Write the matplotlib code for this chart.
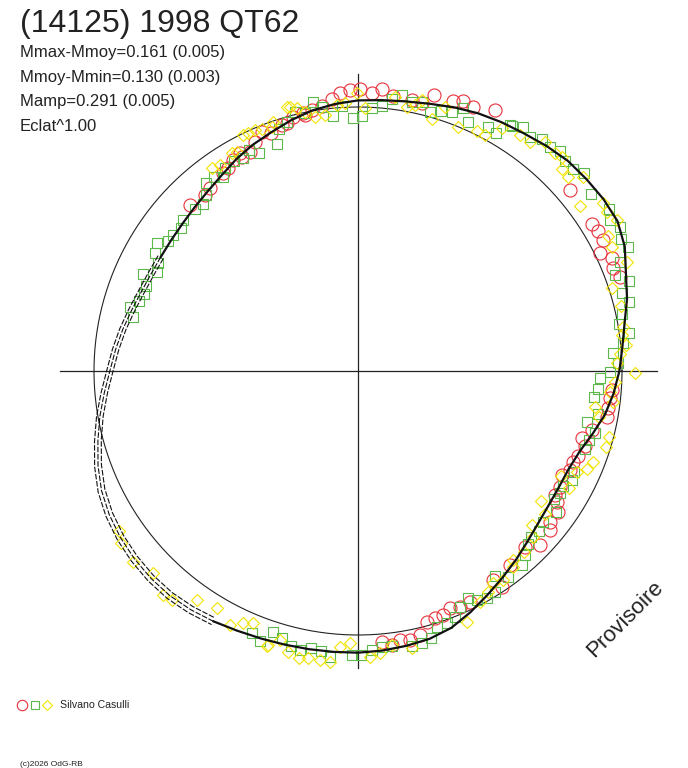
"""Courbe de lumière polaire de (14125) 1998 QT62"""
import numpy as np
import matplotlib
matplotlib.use("Agg")
from matplotlib import pyplot as plt

plt.rcParams['font.family'] = ['Liberation Sans', 'DejaVu Sans']

# courbe ajustée : rayon relatif tous les 5 degrés de phase
fit_phase = list(range(0, 360, 5))
fit_r = [0.990, 1.005, 1.025, 1.055, 1.080, 1.115, 1.135, 1.135, 1.130, 1.125,
         1.112, 1.098, 1.088, 1.077, 1.063, 1.048, 1.037, 1.030, 1.025, 1.015,
         1.002, 0.983, 0.962, 0.945, 0.925, 0.903, 0.887, 0.876, 0.868, 0.864,
         0.863, 0.866, 0.874, 0.888, 0.905, 0.922, 0.940, 0.965, 0.993, 1.020,
         1.048, 1.072, 1.088, 1.099, 1.106, 1.110, 1.110, 1.104, 1.095, 1.085,
         1.078, 1.073, 1.070, 1.068, 1.067, 1.063, 1.057, 1.050, 1.035, 1.008,
         0.980, 0.955, 0.932, 0.910, 0.893, 0.883, 0.879, 0.880, 0.893, 0.920,
         0.950, 0.972]

# mesures (phase en degrés, rayon relatif)
red_phase = [95.5, 93.7, 91.6, 89.5, 87.2, 85.2, 82.7, 78.8, 76.6, 74.7, 70.6, 68.7, 66.4, 62.3,
             97.8, 100.1, 102.0, 104.3, 107.2, 110.0, 114.2, 116.2, 118.4,
             101.7, 106.1, 111.9, 118.5, 120.6, 122.6, 124.3, 129.0, 131.0, 135.3,
             40.5, 32.2, 30.3, 28.1, 25.9, 23.9, 21.9, 19.8,
             355.7, 353.8, 351.5, 349.5, 345.8, 343.3, 341.6, 338.9, 337.2, 335.0,
             333.0, 330.2, 327.8, 326.7, 324.9, 321.9, 320.4, 316.3, 313.5, 308.1,
             303.7, 302.9, 295.9, 293.4, 291.2, 289.3, 287.3, 285.3, 283.2, 280.9,
             278.9, 277.0, 275.0]
red_r = [1.034, 1.056, 1.065, 1.067, 1.055, 1.071, 1.050, 1.047, 1.042, 1.084, 1.086, 1.099, 1.092, 1.117,
         1.013, 1.004, 0.998, 0.994, 0.976, 0.958, 0.952, 0.926, 0.939,
         0.990, 0.976, 0.977, 0.924, 0.928, 0.911, 0.906, 0.891, 0.883, 0.895,
         1.056, 1.046, 1.054, 1.053, 1.019, 1.052, 1.042, 1.055,
         0.964, 0.960, 0.959, 0.958, 0.913, 0.885, 0.906, 0.894, 0.885, 0.886,
         0.866, 0.882, 0.882, 0.901, 0.927, 0.925, 0.944, 0.954, 0.918, 0.934,
         0.982, 0.943, 0.971, 0.973, 0.964, 0.979, 0.981, 0.985, 1.027, 1.038,
         1.031, 1.046, 1.029]

green_phase = [99.5, 97.8, 95.5, 93.5, 91.1, 89.2, 87.0, 84.9, 82.9, 81.0, 78.7, 76.7, 74.5,
               72.3, 70.1, 68.2, 66.3, 62.0, 60.0, 58.3, 109.7, 114.3, 108.0, 103.7, 101.6, 106.0,
               57.9, 55.9, 53.6, 51.6, 49.5, 47.4, 45.4, 43.3, 41.2, 37.2, 32.9, 30.9, 28.8, 26.7,
               24.7, 22.6, 20.5, 18.4, 16.4, 14.3, 12.3, 10.2, 7.9, 6.0, 4.0, 1.8, 359.8, 358.3,
               355.7, 353.6, 349.9, 347.5, 345.4, 343.4, 341.1, 335.0, 333.0, 330.7, 328.8, 326.8,
               324.6, 320.8, 318.6, 316.3, 314.5, 312.2, 310.2,
               306.2, 303.8, 301.8, 299.5, 297.4, 295.8, 293.4, 291.5, 289.4, 287.1, 285.2, 283.2,
               281.0, 277.0, 274.9, 272.8, 270.7, 268.7, 264.5, 262.4, 260.3, 258.3, 256.2, 254.0,
               252.0, 250.0, 247.9,
               158.2, 155.8, 153.7, 151.7, 149.8, 147.6, 145.6, 143.6, 141.2, 139.3, 135.1, 132.9,
               130.8, 128.9, 126.6, 124.7, 123.3, 120.5, 118.5, 116.2,
               160.2, 162.2, 164.4, 166.5]
green_r = [1.034, 1.011, 0.970, 1.006, 0.960, 0.967, 0.999, 1.009, 1.037, 1.058, 1.038, 1.046, 1.019,
           1.035, 1.044, 1.074, 1.032, 1.048, 1.043, 1.095, 0.913, 0.907, 0.963, 1.011, 0.997, 0.982,
           1.097, 1.117, 1.099, 1.121, 1.117, 1.131, 1.118, 1.117, 1.137, 1.106, 1.132, 1.113, 1.133, 1.114,
           1.127, 1.075, 1.040, 1.083, 1.041, 1.060, 1.022, 1.004, 1.037, 1.010, 0.969, 0.986, 0.955, 0.917,
           0.911, 0.900, 0.925, 0.887, 0.928, 0.914, 0.910, 0.904, 0.909, 0.891, 0.894, 0.887,
           0.920, 0.903, 0.915, 0.909, 0.918, 0.941, 0.961,
           0.965, 0.934, 0.984, 0.989, 0.977, 0.956, 0.973, 1.003, 1.013, 1.013, 1.049, 1.057,
           1.063, 1.050, 1.048, 1.058, 1.076, 1.076, 1.087, 1.069, 1.066, 1.080, 1.071, 1.051,
           1.038, 1.087, 1.072,
           0.865, 0.894, 0.850, 0.861, 0.890, 0.903, 0.874, 0.869, 0.862, 0.876, 0.872, 0.864,
           0.881, 0.917, 0.914, 0.896, 0.918, 0.925, 0.916, 0.933,
           0.861, 0.871, 0.897, 0.878]

yellow_phase = [120.1, 115.9, 113.1, 111.7, 109.5, 105.1, 103.1, 101.6, 99.6, 97.3, 94.6, 92.8,
                90.3, 88.5, 82.3, 79.5, 77.9, 76.8, 73.7, 71.7, 67.7, 63.7, 61.7, 59.4,
                104.4, 114.8, 108.8, 118.9, 123.8, 125.8,
                55.5, 53.1, 50.8, 47.9, 46.5, 44.7, 42.7, 40.8, 36.6, 34.4, 32.6, 30.3, 28.3,
                26.1, 22.1, 18.1, 13.9, 9.5, 7.8, 5.5, 3.7, 1.8, 359.5,
                357.6, 355.3, 353.1, 351.4, 349.3, 345.2, 343.0, 338.9, 336.8, 335.3, 332.6,
                330.9, 324.6, 322.5, 318.4, 316.5, 312.5, 309.4,
                245.6, 247.5, 251.9, 253.8, 256.1, 258.3, 260.2, 262.5, 264.5, 266.3, 268.3,
                272.4, 274.5, 277.0, 281.0, 293.4, 297.9, 300.6, 302.5, 304.8, 308.4,
                213.9, 216.0, 220.3, 224.7, 229.0, 230.9, 234.9, 239.2, 243.3, 251.7]
yellow_r = [0.953, 0.994, 0.993, 0.986, 0.981, 1.037, 1.022, 1.003, 0.977, 0.978, 1.011, 1.015,
            1.052, 0.995, 1.048, 1.016, 1.030, 1.055, 0.993, 1.052, 1.000, 1.014, 1.015, 1.068,
            1.034, 0.992, 0.995, 0.949, 0.939, 0.947,
            1.084, 1.086, 1.121, 1.114, 1.120, 1.086, 1.084, 1.124, 1.048, 1.124, 1.119, 1.135, 1.077,
            1.070, 1.099, 1.011, 1.025, 1.019, 1.008, 1.020, 0.995, 0.983, 1.049,
            0.974, 0.958, 0.974, 0.908, 0.930, 0.984, 0.982, 0.955, 0.945, 0.912, 0.865,
            0.915, 0.850, 0.892, 0.879, 0.915, 0.928, 0.927,
            1.050, 1.035, 1.092, 1.061, 1.096, 1.111, 1.104, 1.104, 1.106, 1.047, 1.032,
            1.083, 1.073, 1.046, 1.070, 1.035, 0.989, 0.971, 0.954, 0.964, 0.946,
            1.090, 1.111, 1.116, 1.090, 1.124, 1.118, 1.060, 1.044, 1.077, 1.097]

title = "(14125) 1998 QT62"
infos = ["Mmax-Mmoy=0.161 (0.005)", "Mmoy-Mmin=0.130 (0.003)",
         "Mamp=0.291 (0.005)", "Eclat^1.00"]
observer = "Silvano Casulli"

RED, GREEN, YELLOW, INK = '#e8323c', '#5cb84a', '#f2e400', '#222222'


def polar_xy(phase, r):
    t = np.radians(np.asarray(phase, dtype=float))
    r = np.asarray(r, dtype=float)
    return r * np.cos(t), r * np.sin(t)


W, H = 688, 768
unit = 264          # pixels pour un rayon de 1
cx, cy = 358, 371   # centre du diagramme en pixels

fig = plt.figure(figsize=(W / 100, H / 100), dpi=100)
ax = fig.add_axes([0, 0, 1, 1])
ax.set_xlim(-cx / unit, (W - cx) / unit)
ax.set_ylim(-(H - cy) / unit, cy / unit)
ax.axis('off')

# axes et cercle de référence
ax.plot([-1.129, 1.133], [0, 0], color=INK, lw=0.9, zorder=1)
ax.plot([0, 0], [-1.125, 1.125], color=INK, lw=0.9, zorder=1)
t = np.linspace(0, 2 * np.pi, 400)
ax.plot(np.cos(t), np.sin(t), color=INK, lw=0.8, zorder=1)

# mesures
x, y = polar_xy(red_phase, red_r)
ax.plot(x, y, 'o', ms=9.4, mfc='none', mec=RED, mew=0.8, zorder=2)
x, y = polar_xy(green_phase, green_r)
ax.plot(x, y, 's', ms=7.6, mfc='none', mec=GREEN, mew=0.8, zorder=2)
x, y = polar_xy(yellow_phase, yellow_r)
ax.plot(x, y, 'D', ms=5.8, mfc='none', mec=YELLOW, mew=0.8, zorder=2)

# courbe ajustée (commence à 240° pour isoler la partie gauche)
ph = np.array(fit_phase, dtype=float)
rr = np.array(fit_r)
k = fit_phase.index(240)
ph = np.concatenate([ph[k:], ph[:k] + 360, [ph[k] + 360]])
rr = np.concatenate([rr[k:], rr[:k], [rr[k]]])
n_solid = (510 - 240) // 5 + 1
x, y = polar_xy(ph[:n_solid], rr[:n_solid])
ax.plot(x, y, color='#111111', lw=1.6, zorder=3)
for f in (0.987, 1.0, 1.013):
    x, y = polar_xy(ph[n_solid - 1:], rr[n_solid - 1:] * f)
    ax.plot(x, y, color='#111111', lw=0.8, dashes=(5, 1.5), zorder=3)

# textes
fig.text(20 / W, 1 - 32 / H, title, fontsize=23, color=INK, va='baseline')
for i, s in enumerate(infos):
    fig.text(20 / W, 1 - (57 + 24.6 * i) / H, s, fontsize=12, color=INK, va='baseline')

fig.text(625 / W, 1 - 619 / H, "Provisoire", fontsize=16, color=INK, rotation=45,
         ha='center', va='center')

# légende
ax.plot([22 / W], [1 - 705 / H], 'o', ms=7.5, mfc='none', mec=RED, mew=0.8,
        transform=fig.transFigure)
ax.plot([35 / W], [1 - 705 / H], 's', ms=5.5, mfc='none', mec=GREEN, mew=0.8,
        transform=fig.transFigure)
ax.plot([47 / W], [1 - 705 / H], 'D', ms=5.0, mfc='none', mec=YELLOW, mew=0.8,
        transform=fig.transFigure)
fig.text(60 / W, 1 - 708 / H, observer, fontsize=7.6, color=INK, va='baseline')
fig.text(20 / W, 1 - 766 / H, "(c)2026 OdG-RB", fontsize=6, color=INK, va='baseline')

fig.savefig("out.png", dpi=100)
